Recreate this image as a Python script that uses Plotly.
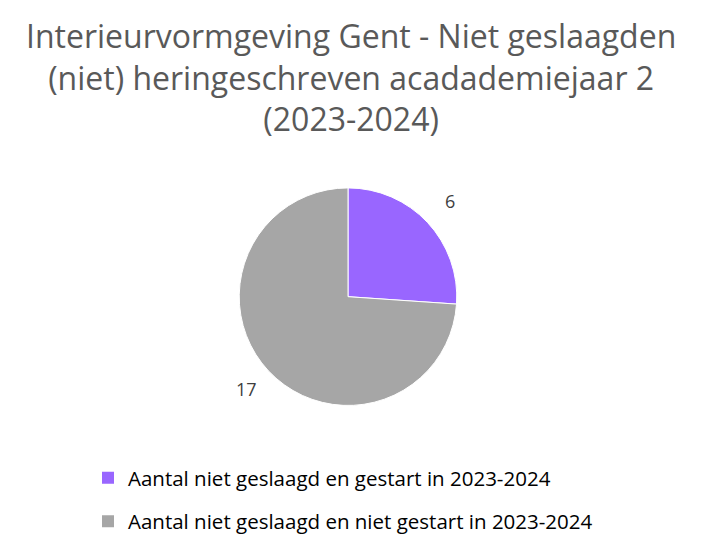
import math
import plotly.graph_objects as go

title_lines = [
    "Interieurvormgeving Gent - Niet geslaagden",
    "(niet) heringeschreven acadademiejaar 2",
    "(2023-2024)",
]
categories = [
    "Aantal niet geslaagd en gestart in 2023-2024",
    "Aantal niet geslaagd en niet gestart in 2023-2024",
]
values = [6, 17]
colors = ["#9966FF", "#A6A6A6"]

W, H = 701, 542

# pie geometry in pixels
cx, cy, r = 348, 300, 110
label_dist = 139

fig = go.Figure()
fig.add_trace(
    go.Pie(
        labels=categories,
        values=values,
        sort=False,
        direction="clockwise",
        rotation=0,
        marker=dict(colors=colors, line=dict(color="white", width=1)),
        textinfo="none",
        domain=dict(x=[(cx - r) / W, (cx + r) / W], y=[(H - cy - r) / H, (H - cy + r) / H]),
        showlegend=False,
        hoverinfo="label+value",
    )
)

# legend entries, one group per category so the gap between rows can be set
for i, (cat, col) in enumerate(zip(categories, colors)):
    fig.add_trace(
        go.Scatter(
            x=[None],
            y=[None],
            mode="markers",
            marker=dict(symbol="square", size=12, color=col),
            name=cat,
            legendgroup=f"g{i}",
            showlegend=True,
        )
    )

# value labels placed outside each slice at its mid-angle
total = sum(values)
start = 0.0
annotations = []
for v in values:
    mid = start + v / total * 360 / 2
    start += v / total * 360
    a = math.radians(mid)
    px = cx + label_dist * math.sin(a)
    py = cy - 2 - label_dist * math.cos(a)
    annotations.append(
        dict(
            text=str(v),
            x=px / W,
            y=(H - py) / H,
            xref="paper",
            yref="paper",
            showarrow=False,
            xanchor="center",
            yanchor="middle",
            font=dict(family="Open Sans", size=18, color="#404040"),
        )
    )

annotations.append(
    dict(
        text="<br>".join(title_lines),
        x=0.5,
        y=1 - 12 / H,
        xref="paper",
        yref="paper",
        xanchor="center",
        yanchor="top",
        showarrow=False,
        font=dict(family="Open Sans", size=32, color="#595959"),
    )
)

fig.update_layout(
    width=W,
    height=H,
    margin=dict(l=0, r=0, t=0, b=0),
    paper_bgcolor="white",
    plot_bgcolor="white",
    font=dict(family="Open Sans", color="#000000"),
    xaxis=dict(visible=False),
    yaxis=dict(visible=False),
    annotations=annotations,
    legend=dict(
        orientation="v",
        x=88 / W,
        xanchor="left",
        y=(H - 463) / H,
        yanchor="top",
        font=dict(family="Open Sans", size=20.5, color="#000000"),
        tracegroupgap=14,
        itemwidth=30,
        bgcolor="rgba(0,0,0,0)",
    ),
)

fig.write_html("out.html")
